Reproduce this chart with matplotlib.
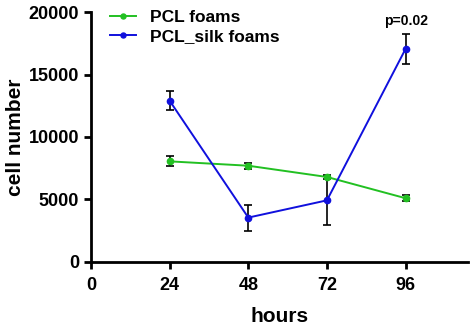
import matplotlib
matplotlib.use("Agg")
import matplotlib.pyplot as plt

plt.rcParams['font.family'] = ['Liberation Sans', 'DejaVu Sans']
plt.rcParams['font.weight'] = 'bold'

hours = [24, 48, 72, 96]
pcl_mean = [8050, 7700, 6800, 5100]
pcl_err = [400, 250, 150, 250]
silk_mean = [12900, 3550, 4930, 17050]
silk_err = [750, 1040, 1970, 1170]
y_ticks = [0, 5000, 10000, 15000, 20000]
x_ticks = [0, 24, 48, 72, 96]

fig = plt.figure(figsize=(4.74, 3.25), dpi=100)
ax = fig.add_axes([0.192, 0.194, 0.795, 0.769])

ax.errorbar(hours, pcl_mean, yerr=pcl_err, color='#22c022', marker='o', ms=4.5,
            lw=1.4, ecolor='black', elinewidth=1.2, capsize=3, capthick=1.2,
            label='PCL foams', zorder=3)
ax.errorbar(hours, silk_mean, yerr=silk_err, color='#1010dd', marker='o', ms=4.5,
            lw=1.4, ecolor='black', elinewidth=1.2, capsize=3, capthick=1.2,
            label='PCL_silk foams', zorder=3)

ax.text(96, 19300, 'p=0.02', ha='center', va='center', fontsize=10, fontweight='bold')

ax.set_xlim(0, 115)
ax.set_ylim(0, 20000)
ax.set_xticks(x_ticks)
ax.set_yticks(y_ticks)
ax.spines['top'].set_visible(False)
ax.spines['right'].set_visible(False)
for s in ['left', 'bottom']:
    ax.spines[s].set_linewidth(2)
ax.tick_params(width=2, length=5, labelsize=13)
ax.tick_params(axis='x', pad=6)
for lbl in ax.get_xticklabels() + ax.get_yticklabels():
    lbl.set_fontweight('bold')

ax.set_xlabel('hours', fontsize=15, fontweight='bold', labelpad=9)
ax.set_ylabel('cell number', fontsize=15, fontweight='bold', labelpad=3)

handles, labels = ax.get_legend_handles_labels()
handles = [h[0] for h in handles]
ax.legend(handles, labels, loc='upper left', bbox_to_anchor=(0.01, 1.07), frameon=False,
          prop={'size': 12.5, 'weight': 'bold'}, handlelength=1.5, handletextpad=0.8,
          labelspacing=0.2, markerscale=0.8)

fig.savefig('out.png', dpi=100)
